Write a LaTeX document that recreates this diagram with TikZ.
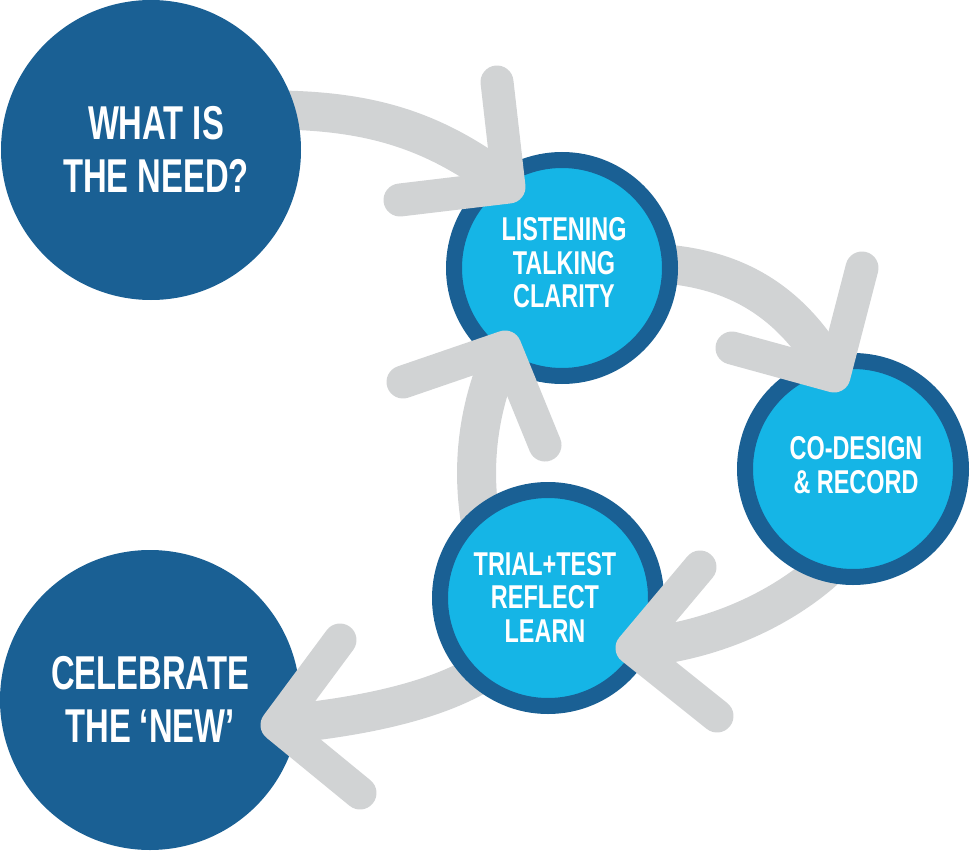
\documentclass[tikz,border=0pt]{standalone}
\usepackage{fontspec}
\newfontfamily\condbig[FakeStretch=0.69]{Liberation Sans}
\newfontfamily\condsmall[FakeStretch=0.71]{Liberation Sans}
\definecolor{darkblue}{RGB}{26,96,148}
\definecolor{lightblue}{RGB}{21,181,230}
\definecolor{arrowgray}{RGB}{209,211,212}
\begin{document}
\begin{tikzpicture}[x=1pt,y=-1pt,
  shaft/.style={draw=arrowgray, line width=39pt, line cap=butt},
  head/.style={draw=arrowgray, line width=33pt, line cap=round, line join=round},
  bigc/.style={circle, fill=darkblue, minimum size=300pt, inner sep=0pt},
  smallc/.style={circle, fill=lightblue, draw=darkblue, line width=16pt, minimum size=216pt, inner sep=0pt},
  bigt/.style={text=white, align=center, inner sep=0pt, font=\condbig\bfseries\fontsize{47.5}{53}\selectfont},
  smallt/.style={text=white, align=center, inner sep=0pt, font=\condsmall\bfseries\fontsize{33}{33.5}\selectfont}]
\useasboundingbox (0,0) rectangle (970,851);

% arrow coordinates
\coordinate (s1) at (250,110);  \coordinate (t1) at (509,187);
\coordinate (h1a) at (497,82);  \coordinate (h1b) at (400,200);
\coordinate (s2) at (650,263);  \coordinate (t2) at (834,376);
\coordinate (h2a) at (862,268); \coordinate (h2b) at (732,348);
\coordinate (s3) at (835,560);  \coordinate (t3) at (632,648);
\coordinate (h3a) at (700,567); \coordinate (h3b) at (717,716);
\coordinate (s4) at (485,545);  \coordinate (t4) at (505,347);
\coordinate (h4a) at (403,382); \coordinate (h4b) at (545,445);
\coordinate (s5) at (500,660);  \coordinate (t5) at (277,725);
\coordinate (h5a) at (340,640); \coordinate (h5b) at (360,793);

% shafts (behind circles)
\draw[shaft] (s1) .. controls (360,108) and (429,125) .. (t1);
\draw[shaft] (s2) .. controls (720,266) and (786,289) .. (t2);
\draw[shaft] (s3) .. controls (790,605) and (716,642) .. (t3);
\draw[shaft] (s4) .. controls (470,480) and (474,414) .. (t4);
\draw[shaft] (s5) .. controls (450,700) and (362,717) .. (t5);

% circles
\node[bigc] (need) at (151,150) {};
\node[bigc] (celebrate) at (150,700) {};
\node[smallc] (listen) at (562,268) {};
\node[smallc] (codesign) at (853,469) {};
\node[smallc] (trial) at (548,598) {};

% arrow heads (on top of circles)
\draw[head] (h1a) -- (t1) -- (h1b);
\draw[head] (h2a) -- (t2) -- (h2b);
\draw[head] (h3a) -- (t3) -- (h3b);
\draw[head] (h4a) -- (t4) -- (h4b);
\draw[head] (h5a) -- (t5) -- (h5b);

% texts
\node[bigt] (needtext) at (156,149) {WHAT IS\\THE NEED?};
\node[bigt] (celebratetext) at (150,699) {CELEBRATE\\THE ‘NEW’};
\node[smallt] (listentext) at (564,263) {LISTENING\\TALKING\\CLARITY};
\node[smallt] (codesigntext) at (856,465) {CO-DESIGN\\\& RECORD};
\node[smallt] (trialtext) at (545,597) {TRIAL+TEST\\REFLECT\\LEARN};
\end{tikzpicture}
\end{document}
